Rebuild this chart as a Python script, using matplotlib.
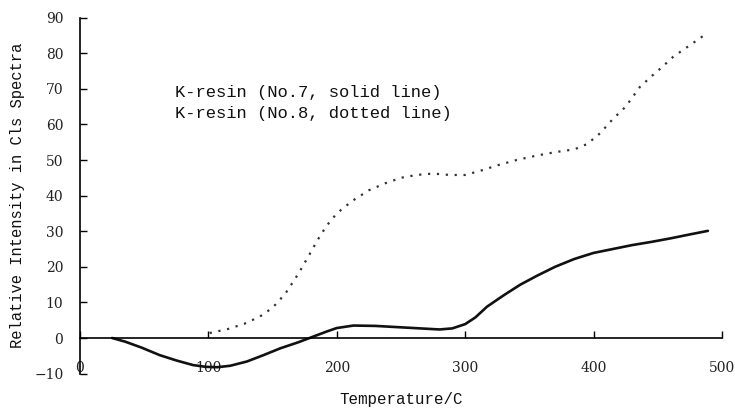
import matplotlib
matplotlib.use('Agg')
import matplotlib.pyplot as plt

# K-resin No.7 (solid line)
temp_7 = [25, 35, 48, 62, 75, 88, 98, 107, 117, 130, 143, 156, 170, 181, 192, 200, 213, 230,
          250, 265, 280, 290, 300, 308, 317, 330, 343, 356, 370, 385, 400, 415, 430, 445, 460,
          475, 489]
inten_7 = [0, -1.0, -2.7, -4.8, -6.3, -7.6, -8.1, -8.2, -7.8, -6.6, -4.8, -2.9, -1.2, 0.3, 1.8,
           2.8, 3.5, 3.4, 3.0, 2.7, 2.4, 2.7, 3.9, 5.8, 8.8, 12.0, 15.0, 17.5, 20.0, 22.2, 23.9,
           25.0, 26.1, 27.0, 28.0, 29.1, 30.1]

# K-resin No.8 (dotted line)
temp_8 = [101, 115, 128, 140, 150, 160, 170, 178, 185, 192, 200, 212, 225, 238, 250, 262,
          275, 288, 300, 312, 325, 340, 355, 370, 385, 395, 405, 415, 425, 436, 445, 453,
          462, 470, 480, 489]
inten_8 = [1.4, 2.5, 4.0, 6.0, 8.5, 12.5, 18.0, 23.0, 27.5, 31.5, 35.0, 38.5, 41.5, 43.5, 45.0, 45.8,
           46.2, 45.8, 45.8, 47.0, 48.5, 50.0, 51.2, 52.2, 53.0, 54.5, 57.5, 61.5, 65.0, 70.5, 73.5, 76.0,
           79.0, 81.0, 83.5, 85.8]

x_ticks = [0, 100, 200, 300, 400, 500]
y_ticks = [-10, 0, 10, 20, 30, 40, 50, 60, 70, 80, 90]

fig = plt.figure(figsize=(7.35, 4.12), dpi=100)
ax = fig.add_axes([0.1088, 0.0932, 0.8735, 0.864])

ax.plot(temp_7, inten_7, color='#111111', linewidth=1.9, solid_capstyle='round',
        solid_joinstyle='round')
ax.plot(temp_8, inten_8, color='#333333', linewidth=1.6, linestyle=(0, (1, 3)))

ax.set_xlim(0, 500)
ax.set_ylim(-10, 90)

ax.spines['top'].set_visible(False)
ax.spines['right'].set_visible(False)
ax.spines['bottom'].set_position(('data', 0))
ax.spines['bottom'].set_linewidth(1.2)
ax.spines['left'].set_linewidth(1.2)

ax.set_xticks(x_ticks)
ax.set_yticks(y_ticks)
ax.tick_params(axis='x', direction='in', length=5, width=1, pad=16.5, labelsize=10)
ax.tick_params(axis='y', direction='in', length=5, width=1, pad=12, labelsize=10)
for lab in ax.get_xticklabels() + ax.get_yticklabels():
    lab.set_family('DejaVu Serif')
    lab.set_color('#222222')

ax.set_xlabel('Temperature/C', family='Liberation Mono', fontsize=11.4, color='#111111')
ax.xaxis.set_label_coords(0.5, -0.074)
ax.xaxis.label.set_va('center')
ax.set_ylabel('Relative Intensity in Cls Spectra', family='Liberation Mono', fontsize=11.2,
              color='#111111')
ax.yaxis.set_label_coords(-0.0966, 0.5)
ax.yaxis.label.set_va('center')

ax.text(74, 69.1, 'K-resin (No.7, solid line)', family='Liberation Mono', fontsize=12.3,
        va='center', ha='left', color='#111111')
ax.text(74, 63.2, 'K-resin (No.8, dotted line)', family='Liberation Mono', fontsize=12.3,
        va='center', ha='left', color='#111111')

fig.savefig('out.png', dpi=100)
